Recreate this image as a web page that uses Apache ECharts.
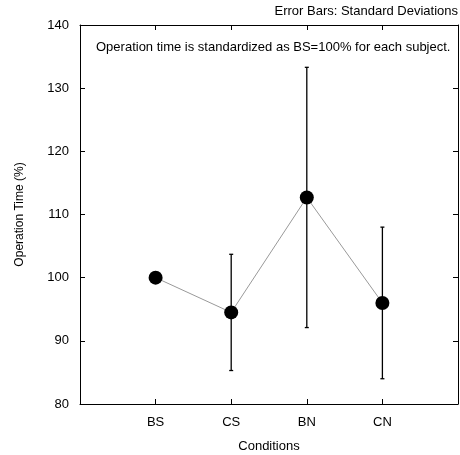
<!DOCTYPE html>
<html><head><meta charset="utf-8">
<script src="https://cdn.jsdelivr.net/npm/echarts@6/dist/echarts.min.js"></script>
<style>html,body{margin:0;padding:0;background:#fff}#c{width:460px;height:455px}</style>
</head><body><div id="c"></div>
<script>
const categories = ['BS', 'CS', 'BN', 'CN'];
const means = [100, 94.5, 112.7, 96.0];
const sds = [0, 9.2, 20.6, 12.0];
const yTicks = [80, 90, 100, 110, 120, 130, 140];

const font = 'Liberation Sans, Arial, sans-serif';
const chart = echarts.init(document.getElementById('c'), null, {renderer: 'canvas'});
const pts = categories.map((c, i) => [i + 1, means[i]]);
const errs = categories.map((c, i) => [i + 1, means[i] - sds[i], means[i] + sds[i]]).filter((d, i) => sds[i] > 0);

const axisCommon = {
  axisLine: {show: true, onZero: false, lineStyle: {color: '#000', width: 1}},
  axisTick: {show: true, inside: true, length: 5, lineStyle: {color: '#000'}},
  splitLine: {show: false}
};

chart.setOption({
  animation: false,
  textStyle: {fontFamily: font},
  grid: {left: 80, right: 2, top: 25, bottom: 51, containLabel: false, outerBoundsMode: 'none'},
  title: [
    {text: 'Error Bars: Standard Deviations', right: 2, top: 5, padding: 0,
     textStyle: {fontSize: 13, fontWeight: 'normal', color: '#000', fontFamily: font}},
    {text: 'Operation time is standardized as BS=100% for each subject.', left: 96, top: 41, padding: 0,
     textStyle: {fontSize: 13, fontWeight: 'normal', color: '#000', fontFamily: font}}
  ],
  xAxis: [
    Object.assign({type: 'value', min: 0, max: 5, interval: 1, position: 'bottom',
      name: 'Conditions', nameLocation: 'middle', nameGap: 36,
      nameTextStyle: {fontSize: 13, color: '#000', fontFamily: font},
      axisLabel: {color: '#000', fontSize: 13, margin: 12, fontFamily: font,
        formatter: v => (v >= 1 && v <= categories.length) ? categories[v - 1] : ''}}, axisCommon),
    Object.assign({type: 'value', min: 0, max: 5, interval: 1, position: 'top',
      axisLabel: {show: false}}, axisCommon)
  ],
  yAxis: [
    Object.assign({type: 'value', min: yTicks[0], max: yTicks[yTicks.length - 1], interval: 10, position: 'left',
      name: 'Operation Time (%)', nameLocation: 'middle', nameGap: 54, nameRotate: 90,
      nameTextStyle: {fontSize: 12, color: '#000', fontFamily: font},
      axisLabel: {color: '#000', fontSize: 13, margin: 11, fontFamily: font}}, axisCommon),
    Object.assign({type: 'value', min: yTicks[0], max: yTicks[yTicks.length - 1], interval: 10, position: 'right',
      axisLabel: {show: false}}, axisCommon)
  ],
  series: [
    {
      type: 'custom', xAxisIndex: 0, yAxisIndex: 0, z: 2,
      data: errs,
      renderItem: function (params, api) {
        const x = api.value(0);
        const lo = api.coord([x, api.value(1)]);
        const hi = api.coord([x, api.value(2)]);
        const w = 2;
        const style = {stroke: '#000', lineWidth: 1.3};
        return {type: 'group', children: [
          {type: 'line', shape: {x1: lo[0], y1: lo[1], x2: hi[0], y2: hi[1]}, style: style},
          {type: 'line', shape: {x1: lo[0] - w, y1: lo[1], x2: lo[0] + w, y2: lo[1]}, style: style},
          {type: 'line', shape: {x1: hi[0] - w, y1: hi[1], x2: hi[0] + w, y2: hi[1]}, style: style}
        ]};
      }
    },
    {
      type: 'line', xAxisIndex: 0, yAxisIndex: 0, z: 3,
      data: pts,
      symbol: 'circle', symbolSize: 14,
      itemStyle: {color: '#000'},
      lineStyle: {color: '#999', width: 1}
    }
  ]
});
</script></body></html>
